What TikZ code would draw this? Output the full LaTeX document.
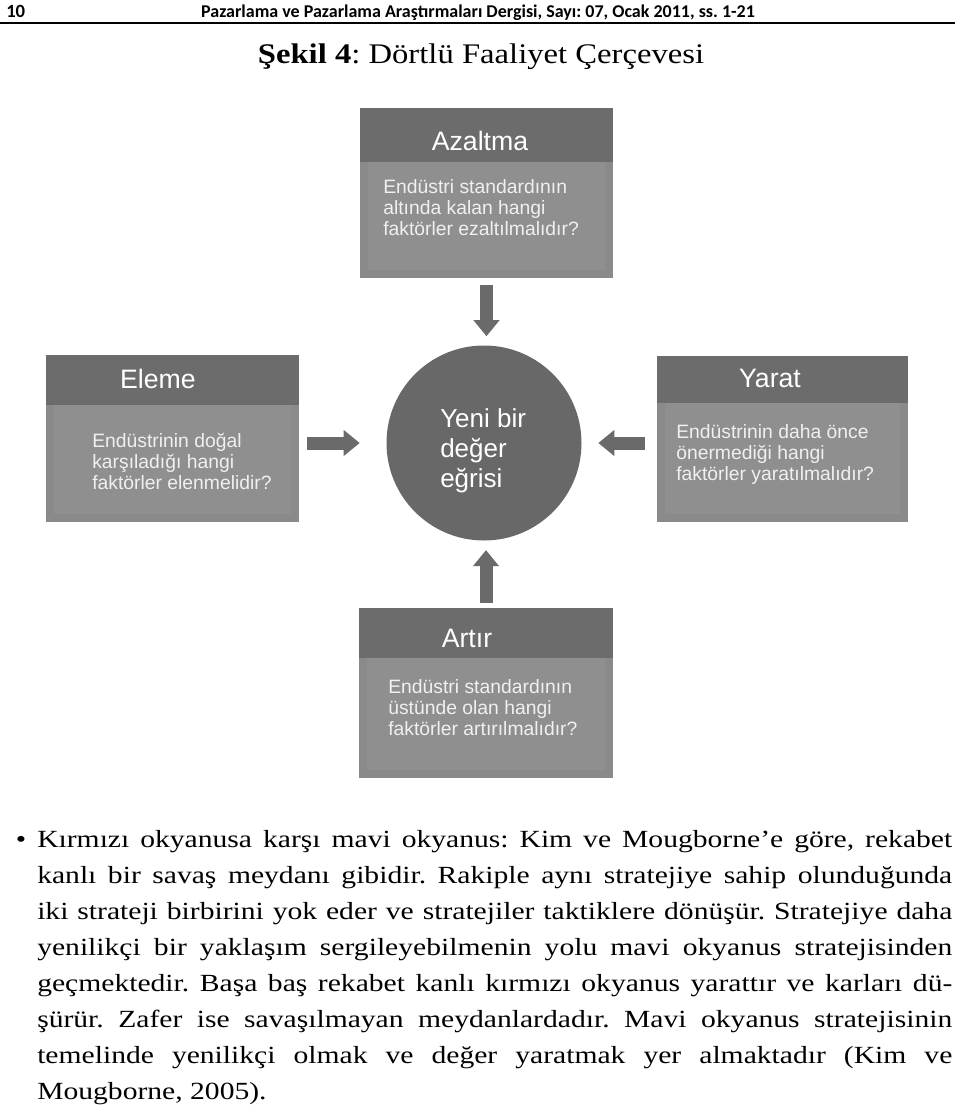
\documentclass[tikz,border=0pt]{standalone}
\usepackage{fontspec}
\setmainfont[FakeStretch=1.15]{Liberation Serif}
\newfontfamily\parafont[FakeStretch=1.2]{Liberation Serif}
\newfontfamily\headfont{Carlito}
\newfontfamily\boxfont{Liberation Sans}
\usetikzlibrary{arrows.meta,fit}
\definecolor{headgray}{RGB}{108,108,108}
\definecolor{bodygray}{RGB}{138,138,138}
\definecolor{innergray}{RGB}{143,143,143}
\definecolor{circgray}{RGB}{104,104,104}
\definecolor{arrowgray}{RGB}{106,106,106}
\frenchspacing
\begin{document}
\begin{tikzpicture}[x=0.75pt,y=-0.75pt,line join=round,
  pagehead/.style={font=\headfont\bfseries\fontsize{13.5}{15}\selectfont,inner sep=0pt},
  box/.style={fill=bodygray,inner sep=0pt},
  boxtitle/.style={anchor=base,inner sep=0pt,text=white,font=\boxfont\fontsize{20}{22}\selectfont},
  boxtext/.style={anchor=base west,inner sep=0pt,align=left,text=white!94!black,font=\boxfont\fontsize{14.5}{15.75}\selectfont},
  circtext/.style={anchor=base west,inner sep=0pt,align=left,text=white,font=\boxfont\fontsize{19.5}{22.5}\selectfont},
  blockarrow/.style={draw=arrowgray,line width=9.75pt,-{Triangle[width=18.75pt,length=12pt]}},
  paraline/.style={anchor=base west,inner sep=0pt,font=\parafont\fontsize{18.5}{27}\selectfont}]
\useasboundingbox (0,0) rectangle (960,1110);
% page head
\node[pagehead,anchor=base west,font=\headfont\bfseries\fontsize{14}{16}\selectfont] (pageno) at (6,17) {10};
\node[pagehead,anchor=base] (journal) at (478,17) {Pazarlama ve Pazarlama Araştırmaları Dergisi, Sayı: 07, Ocak 2011, ss. 1-21};
\draw[line width=1.1pt] (0,23) -- (955,23);
\node[anchor=base,inner sep=0pt,font=\fontsize{21.3}{24}\selectfont] (title) at (481,63) {\textbf{Şekil 4}: Dörtlü Faaliyet Çerçevesi};
% boxes (text anchored on the last line)
\node[box,fit={(360,108)(613,278)}] (azaltma) {};
\fill[innergray] (368,162) rectangle (605,270);
\fill[headgray] (azaltma.north west) rectangle (613,162);
\node[boxtitle] (azaltmabaslik) at (480,150) {Azaltma};
\node[boxtext] (azaltmametin) at (383,235) {Endüstri standardının\\altında kalan hangi\\faktörler ezaltılmalıdır?};

\node[box,fit={(46,355)(299,522)}] (eleme) {};
\fill[innergray] (54,405) rectangle (291,514);
\fill[headgray] (eleme.north west) rectangle (299,405);
\node[boxtitle] (elemebaslik) at (158,388) {Eleme};
\node[boxtext] (elememetin) at (92,489) {Endüstrinin doğal\\karşıladığı hangi\\faktörler elenmelidir?};

\node[box,fit={(657,356)(908,522)}] (yarat) {};
\fill[innergray] (665,403) rectangle (900,514);
\fill[headgray] (yarat.north west) rectangle (908,403);
\node[boxtitle] (yaratbaslik) at (770,387) {Yarat};
\node[boxtext] (yaratmetin) at (676,480) {Endüstrinin daha önce\\önermediği hangi\\faktörler yaratılmalıdır?};

\node[box,fit={(359,608)(613,778)}] (artir) {};
\fill[innergray] (367,658) rectangle (605,770);
\fill[headgray] (artir.north west) rectangle (613,658);
\node[boxtitle] (artirbaslik) at (467,647) {Artır};
\node[boxtext] (artirmetin) at (388,735) {Endüstri standardının\\üstünde olan hangi\\faktörler artırılmalıdır?};
% centre
\node[circle,fill=circgray,minimum size=146.25pt,inner sep=0pt] (yeni) at (484,443) {};
\node[circtext] (yenimetin) at (440,487) {Yeni bir\\değer\\eğrisi};
% arrows
\draw[blockarrow,shorten <=5.25pt,shorten >=6.75pt] (azaltma.south) -- (azaltma.south |- yeni.north);
\draw[blockarrow,shorten <=6pt,shorten >=19.9pt] (eleme.east |- yeni) -- (yeni.west);
\draw[blockarrow,shorten <=9pt,shorten >=12.4pt] (yarat.west |- yeni) -- (yeni.east);
\draw[blockarrow,shorten <=3.75pt,shorten >=7pt] (artir.north) -- (artir.north |- yeni.south);
% text
\node[paraline,anchor=base] (madde) at (21,847) {•};
\node[paraline] (satir1) at (37,847) {\makebox[686.25pt][s]{Kırmızı okyanusa karşı mavi okyanus: Kim ve Mougborne’e göre, rekabet}};
\node[paraline] (satir2) at (37,883) {\makebox[686.25pt][s]{kanlı bir savaş meydanı gibidir. Rakiple aynı stratejiye sahip olunduğunda}};
\node[paraline] (satir3) at (37,919) {\makebox[686.25pt][s]{iki strateji birbirini yok eder ve stratejiler taktiklere dönüşür. Stratejiye daha}};
\node[paraline] (satir4) at (37,955) {\makebox[686.25pt][s]{yenilikçi bir yaklaşım sergileyebilmenin yolu mavi okyanus stratejisinden}};
\node[paraline] (satir5) at (37,991) {\makebox[686.25pt][s]{geçmektedir. Başa baş rekabet kanlı kırmızı okyanus yarattır ve karları dü-}};
\node[paraline] (satir6) at (37,1027) {\makebox[686.25pt][s]{şürür. Zafer ise savaşılmayan meydanlardadır. Mavi okyanus stratejisinin}};
\node[paraline] (satir7) at (37,1063) {\makebox[686.25pt][s]{temelinde yenilikçi olmak ve değer yaratmak yer almaktadır (Kim ve}};
\node[paraline] (satir8) at (37,1099) {Mougborne, 2005).};
\end{tikzpicture}
\end{document}
